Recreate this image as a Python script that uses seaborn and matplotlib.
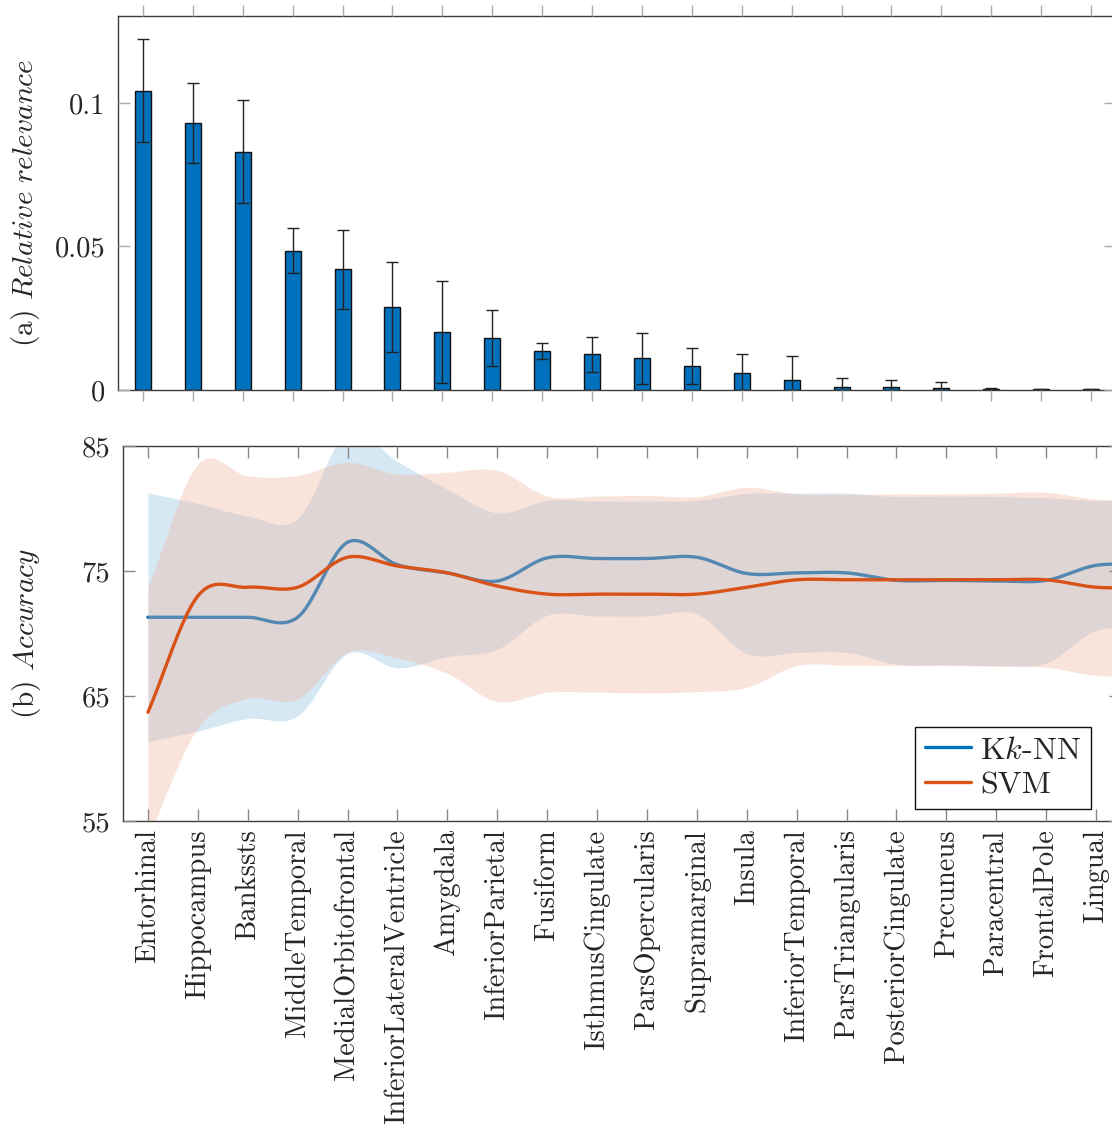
import numpy as np
import pandas as pd
import matplotlib
matplotlib.use("Agg")
import matplotlib.pyplot as plt
from matplotlib.lines import Line2D
import seaborn as sns

# ---------------------------------------------------------------- data
regions = ["Entorhinal", "Hippocampus", "Bankssts", "MiddleTemporal",
           "MedialOrbitofrontal", "InferiorLateralVentricle", "Amygdala",
           "InferiorParietal", "Fusiform", "IsthmusCingulate", "ParsOpercularis",
           "Supramarginal", "Insula", "InferiorTemporal", "ParsTriangularis",
           "PosteriorCingulate", "Precuneus", "Paracentral", "FrontalPole", "Lingual"]

relevance = [0.1043, 0.0930, 0.0830, 0.0485, 0.0420, 0.0288, 0.0201, 0.0181,
             0.0136, 0.0124, 0.0111, 0.0083, 0.0060, 0.0036, 0.0012, 0.0009,
             0.0008, 0.0003, 0.0002, 0.0002]
relevance_err = [0.0180, 0.0140, 0.0180, 0.0078, 0.0139, 0.0157, 0.0178, 0.0096,
                 0.0029, 0.0062, 0.0089, 0.0062, 0.0067, 0.0084, 0.0030, 0.0026,
                 0.0021, 0.0005, 0.0003, 0.0001]

# accuracy when adding features one by one (last point continues past the final label)
n_features = list(range(1, 22))
knn_mean = [71.3, 71.3, 71.3, 71.3, 77.3, 75.5, 74.85, 74.2, 76.05, 76.0, 76.0,
            76.1, 74.8, 74.85, 74.85, 74.25, 74.25, 74.2, 74.25, 75.45, 75.5]
knn_std = [9.95, 9.1, 8.1, 7.9, 8.9, 8.25, 6.7, 5.45, 4.6, 4.6, 4.6, 4.55, 6.4,
           6.37, 6.37, 6.7, 6.75, 6.75, 6.6, 5.2, 5.2]
svm_mean = [63.7, 73.0, 73.7, 73.7, 76.1, 75.4, 74.85, 73.8, 73.15, 73.15, 73.15,
            73.15, 73.7, 74.3, 74.3, 74.3, 74.3, 74.3, 74.3, 73.7, 73.7]
svm_std = [10.0, 10.55, 8.9, 8.95, 7.6, 7.35, 8.05, 9.25, 7.85, 7.85, 7.9, 7.8,
           8.0, 6.87, 6.84, 6.86, 6.86, 6.93, 7.0, 7.05, 7.05]

BLUE = "#0072BD"
ORANGE = "#D95319"
ORANGE_FILL = "#eeb29b"


def smooth_curve(xk, yk, xs):
    """Catmull-Rom (cubic Hermite) curve through equally spaced knots."""
    xk = np.asarray(xk, float)
    y = np.asarray(yk, float)
    n = len(y)
    m = np.empty(n)
    m[1:-1] = (y[2:] - y[:-2]) / 2.0
    m[0] = y[1] - y[0]
    m[-1] = y[-1] - y[-2]
    idx = np.clip(np.floor(xs - xk[0]).astype(int), 0, n - 2)
    t = xs - xk[idx]
    h00 = 2 * t ** 3 - 3 * t ** 2 + 1
    h10 = t ** 3 - 2 * t ** 2 + t
    h01 = -2 * t ** 3 + 3 * t ** 2
    h11 = t ** 3 - t ** 2
    return h00 * y[idx] + h10 * m[idx] + h01 * y[idx + 1] + h11 * m[idx + 1]


# ---------------------------------------------------------------- style
sns.set_style("white")
plt.rcParams.update({
    "font.family": "serif",
    "font.serif": ["cmr10"],
    "mathtext.fontset": "cm",
    "axes.unicode_minus": False,
    "axes.formatter.use_mathtext": True,
})
FS = 20.6

fig = plt.figure(figsize=(11.12, 11.31), dpi=100)
ax1 = fig.add_axes([0.10612, 0.65517, 0.89748, 0.33068])
ax2 = fig.add_axes([0.11061, 0.27409, 0.89748, 0.33156])

# ---------------------------------------------------------------- (a) bars
bar_df = pd.DataFrame({"region": regions, "relevance": relevance})
sns.barplot(data=bar_df, x="region", y="relevance", order=regions, color=BLUE,
            saturation=1, width=0.32, edgecolor="#111111", linewidth=1.0,
            errorbar=None, ax=ax1)
ax1.errorbar(np.arange(len(regions)), relevance, yerr=relevance_err, fmt="none",
             ecolor="#222222", elinewidth=1.0, capsize=4, capthick=1.0, zorder=5)
ax1.set_xlim(-0.5, 19.5)
ax1.set_ylim(0, 0.1303)
ax1.set_yticks([0, 0.05, 0.1])
ax1.set_yticklabels(["0", "0.05", "0.1"], fontsize=FS)
ax1.set_xticks(np.arange(len(regions)))
ax1.set_xticklabels([])
ax1.set_xlabel("")
ax1.tick_params(axis="x", which="both", direction="out", length=8, width=1,
                color="#aaaaaa", top=True, bottom=True, labelbottom=False)
ax1.tick_params(axis="y", which="both", direction="in", length=8.5, width=1,
                color="#aaaaaa", left=True, right=True, pad=9)
ax1.set_ylabel(r"(a) $\mathit{Relative\ relevance}$", fontsize=FS + 0.5)
ax1.yaxis.set_label_coords(-0.0762, 0.5)

# ---------------------------------------------------------------- (b) accuracy
xs = np.linspace(1, 21, 801)
xk = np.array(n_features, float)
knn_s = smooth_curve(xk, knn_mean, xs)
knn_lo = smooth_curve(xk, np.array(knn_mean) - np.array(knn_std), xs)
knn_hi = smooth_curve(xk, np.array(knn_mean) + np.array(knn_std), xs)
svm_s = smooth_curve(xk, svm_mean, xs)
svm_lo = smooth_curve(xk, np.array(svm_mean) - np.array(svm_std), xs)
svm_hi = smooth_curve(xk, np.array(svm_mean) + np.array(svm_std), xs)

pos = xs - 1  # align with the categorical positions used above

ax2.fill_between(pos, knn_lo, knn_hi, color=BLUE, alpha=0.16, linewidth=0, zorder=1)
sns.lineplot(x=pos, y=knn_s, color=BLUE, linewidth=2.4, ax=ax2, zorder=2)
ax2.fill_between(pos, svm_lo, svm_hi, color=ORANGE_FILL, alpha=0.35, linewidth=0, zorder=3)
sns.lineplot(x=pos, y=svm_s, color=ORANGE, linewidth=2.4, ax=ax2, zorder=4)

ax2.set_xlim(-0.5, 19.5)
ax2.set_ylim(55, 85)
ax2.set_yticks([55, 65, 75, 85])
ax2.set_yticklabels(["55", "65", "75", "85"], fontsize=FS)
ax2.set_xticks(np.arange(len(regions)))
ax2.set_xticklabels(regions, rotation=90, fontsize=FS)
ax2.tick_params(axis="x", which="both", direction="in", length=8.5, width=1,
                color="#888888", top=True, bottom=True, pad=6)
ax2.tick_params(axis="y", which="both", direction="in", length=8.5, width=1,
                color="#888888", left=True, right=True, pad=9)
ax2.set_ylabel(r"(b) $\mathit{Accuracy}$", fontsize=FS + 0.5)
ax2.yaxis.set_label_coords(-0.0802, 0.5)

handles = [Line2D([], [], color=BLUE, lw=2.4), Line2D([], [], color=ORANGE, lw=2.4)]
leg = ax2.legend(handles, [r"K$k$-NN", "SVM"], loc="lower right",
                 bbox_to_anchor=(0.970, 0.032), borderaxespad=0, frameon=True,
                 fancybox=False, framealpha=1, edgecolor="#111111", fontsize=23,
                 handlelength=1.45, handletextpad=0.3, borderpad=0.3,
                 labelspacing=0.2)
leg.get_frame().set_linewidth(1.0)
leg.set_zorder(20)

for ax in (ax1, ax2):
    for sp in ax.spines.values():
        sp.set_visible(True)
        sp.set_color("#3c3c3c")
        sp.set_linewidth(1.0)
        sp.set_zorder(10)
    ax.xaxis.set_zorder(10)
    ax.yaxis.set_zorder(10)

fig.savefig("out.png", dpi=100)
